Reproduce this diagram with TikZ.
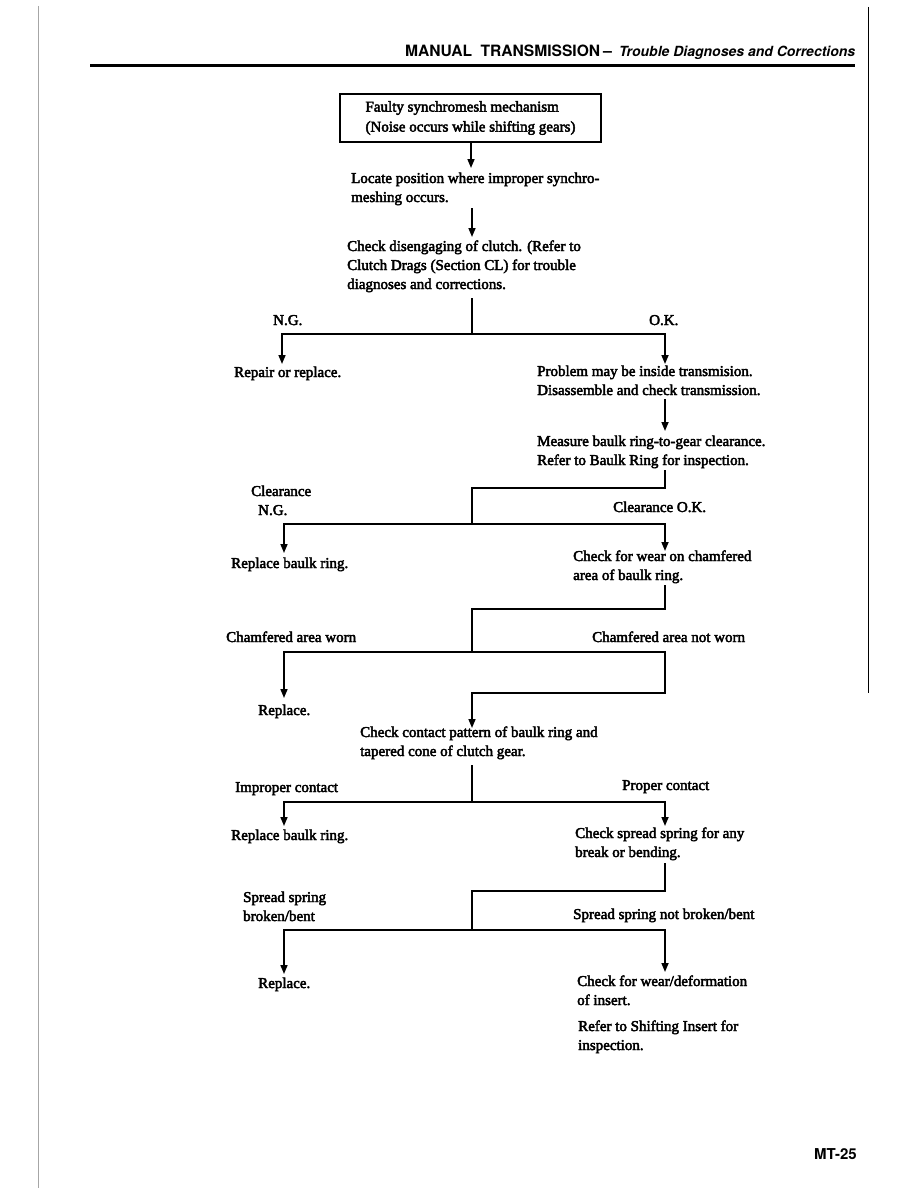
\documentclass[tikz,border=0pt]{standalone}
\usepackage{fontspec}
\setmainfont{Liberation Serif}[FakeBold=3]
\newfontfamily\hdr{TeX Gyre Heros}
\usetikzlibrary{arrows.meta}
\tikzset{
  txt/.style={inner sep=0pt, anchor=base west, align=left,
    font=\fontsize{15}{19}\selectfont},
  flow/.style={line width=1.6pt},
  arr/.style={flow, -{Triangle[width=7pt,length=9pt]}},
}
\begin{document}
\begin{tikzpicture}[x=1pt,y=-1pt]
\useasboundingbox (0,0) rectangle (918,1188);
% margin lines
\draw[gray!70, line width=1pt] (38,6) -- (38,1188);
\draw[line width=1.4pt] (868.5,7) -- (868.5,693);
% header
\node[inner sep=0pt, anchor=base west, font=\hdr\bfseries\fontsize{15.6}{18}\selectfont] (title) at (405,57) {MANUAL\hspace{4pt} TRANSMISSION};
\node[inner sep=0pt, anchor=base west, font=\hdr\bfseries\fontsize{16}{18}\selectfont] (dash) at (603,57) {–};
\node[inner sep=0pt, anchor=base west, font=\hdr\bfseries\itshape\fontsize{14}{16}\selectfont] (subtitle) at (619,57) {Trouble Diagnoses and Corrections};
\draw[line width=2.7pt] (90,65.5) -- (855,65.5);
% top box
\node[draw, line width=2.5pt, minimum width=261pt, minimum height=48pt, align=left, inner sep=0pt,
  font=\fontsize{15}{20}\selectfont] (box) at (470.5,118)
  {Faulty synchromesh mechanism\\(Noise occurs while shifting gears)};
% texts (anchor = baseline of last line)
\node[txt] (locate) at (351,202) {Locate position where improper synchro-\\meshing occurs.};
\node[txt] (clutch) at (347,289) {Check disengaging of clutch. (Refer to\\Clutch Drags (Section CL) for trouble\\diagnoses and corrections.};
\node[txt] (ng1) at (273,325) {N.G.};
\node[txt] (ok1) at (649,325) {O.K.};
\node[txt] (repair) at (234,377) {Repair or replace.};
\node[txt] (problem) at (537,395) {Problem may be inside transmision.\\Disassemble and check transmission.};
\node[txt] (measure) at (537,465) {Measure baulk ring-to-gear clearance.\\Refer to Baulk Ring for inspection.};
\node[txt] (clng) at (251,515) {Clearance\\\hspace*{7pt}N.G.};
\node[txt] (clok) at (613,512) {Clearance O.K.};
\node[txt] (rbr1) at (231,568) {Replace baulk ring.};
\node[txt] (wear) at (573,580) {Check for wear on chamfered\\area of baulk ring.};
\node[txt] (worn) at (226,642) {Chamfered area worn};
\node[txt] (notworn) at (592,642) {Chamfered area not worn};
\node[txt] (repl1) at (258,715) {Replace.};
\node[txt] (contact) at (360,756) {Check contact pattern of baulk ring and\\tapered cone of clutch gear.};
\node[txt] (improper) at (235,792) {Improper contact};
\node[txt] (proper) at (622,790) {Proper contact};
\node[txt] (rbr2) at (231,840) {Replace baulk ring.};
\node[txt] (spread) at (575,857) {Check spread spring for any\\break or bending.};
\node[txt] (ssbroken) at (243,921) {Spread spring\\broken/bent};
\node[txt] (ssok) at (573,919) {Spread spring not broken/bent};
\node[txt] (repl2) at (258,988) {Replace.};
\node[txt] (insert) at (577,1005) {Check for wear/deformation\\of insert.};
\node[txt] (shift) at (578,1050) {Refer to Shifting Insert for\\inspection.};
\node[inner sep=0pt, anchor=base west, font=\hdr\bfseries\fontsize{15}{17}\selectfont] (page) at (814,1159) {MT-25};
% coordinates
\coordinate (t1) at (471,168);
\coordinate (s2) at (472,208); \coordinate (t2) at (472,237);
\coordinate (s3) at (472,298); \coordinate (j3) at (472,334);
\coordinate (l3) at (282,364); \coordinate (r3) at (665,364);
\coordinate (s4) at (665,399); \coordinate (t4) at (665,431);
\coordinate (s5) at (665,470); \coordinate (m5) at (472,488); \coordinate (j5) at (472,524);
\coordinate (l5) at (284,553); \coordinate (r5) at (665,551);
\coordinate (s6) at (665,585); \coordinate (m6) at (472,609); \coordinate (j6) at (472,652);
\coordinate (l6) at (284,698); \coordinate (r6) at (665,693); \coordinate (t6) at (472,728);
\coordinate (s7) at (472,765); \coordinate (j7) at (472,802);
\coordinate (l7) at (284,826); \coordinate (r7) at (665,826);
\coordinate (s8) at (665,863); \coordinate (m8) at (472,891); \coordinate (j8) at (472,930);
\coordinate (l8) at (284,974); \coordinate (r8) at (665,972);
% connectors
\draw[arr] (box.south -| t1) -- (t1);
\draw[arr] (s2) -- (t2);
\draw[flow] (s3) -- (j3);
\draw[arr] (j3) -| (l3);
\draw[arr] (j3) -| (r3);
\draw[arr] (s4) -- (t4);
\draw[flow] (s5) |- (m5) -- (j5);
\draw[arr] (j5) -| (l5);
\draw[arr] (j5) -| (r5);
\draw[flow] (s6) |- (m6) -- (j6);
\draw[arr] (j6) -| (l6);
\draw[arr] (j6) -| (r6) -| (t6);
\draw[flow] (s7) -- (j7);
\draw[arr] (j7) -| (l7);
\draw[arr] (j7) -| (r7);
\draw[flow] (s8) |- (m8) -- (j8);
\draw[arr] (j8) -| (l8);
\draw[arr] (j8) -| (r8);
\end{tikzpicture}
\end{document}
